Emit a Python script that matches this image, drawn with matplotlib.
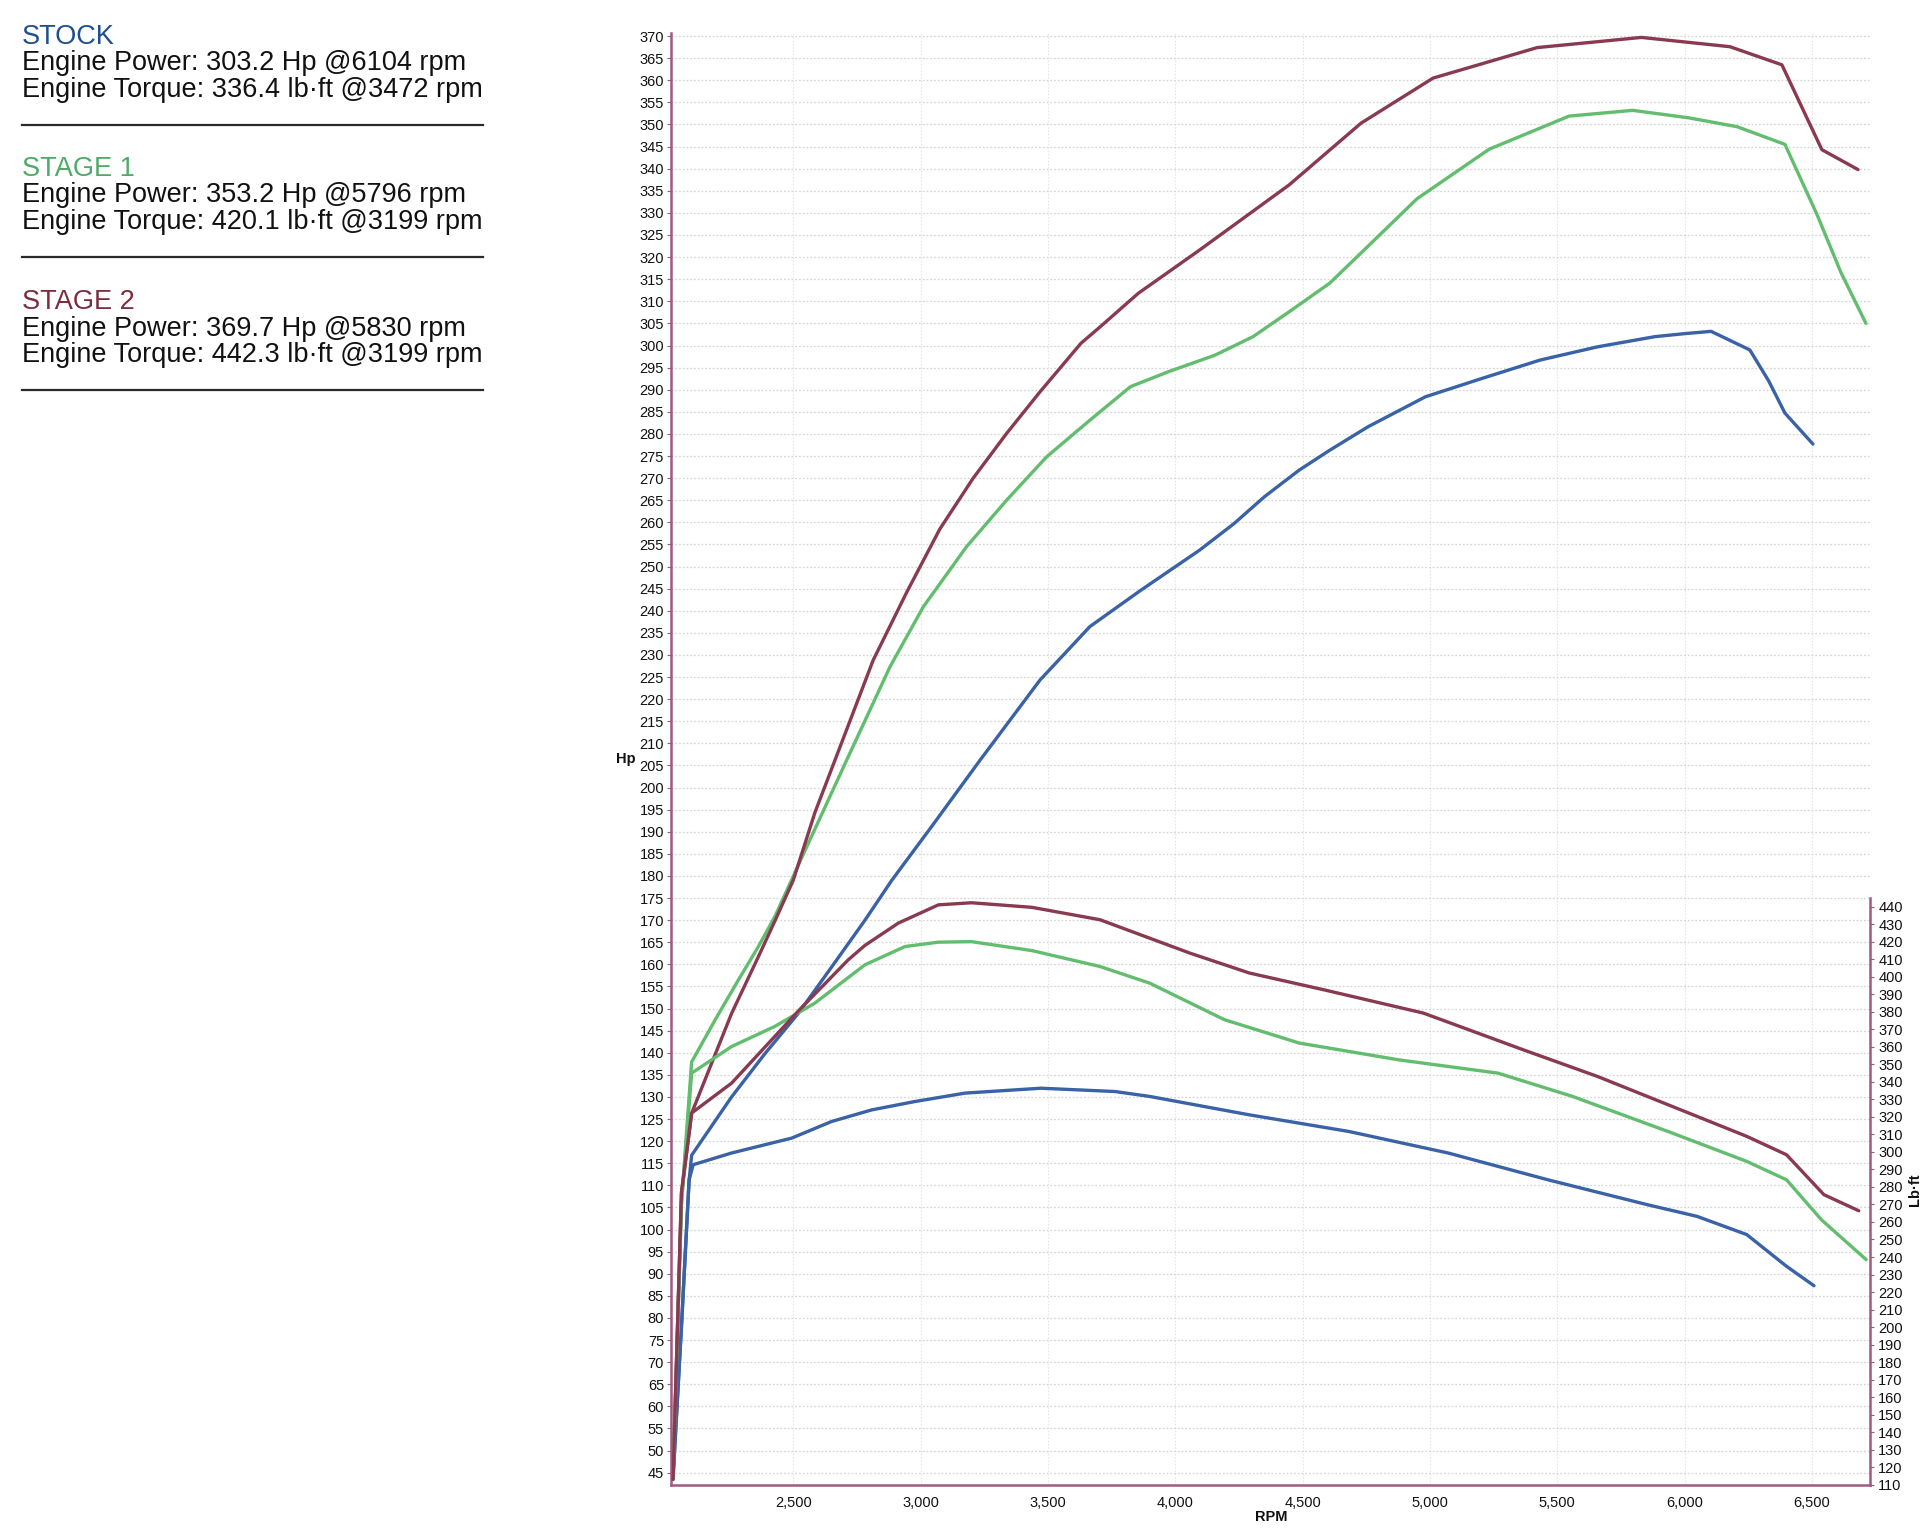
import matplotlib
matplotlib.use("Agg")
import matplotlib.pyplot as plt

plt.rcParams['font.family'] = ['Liberation Sans', 'DejaVu Sans']

# ---------------- data ----------------
stock_hp_rpm = [2027, 2060, 2090, 2100, 2257, 2388, 2519, 2650, 2781, 2886, 3043, 3233, 3468,
                3664, 3861, 4095, 4230, 4350, 4486, 4606, 4756, 4982, 5207, 5432, 5658, 5883,
                6003, 6104, 6256, 6330, 6394, 6504]
stock_hp = [44, 78, 111, 116.8, 130, 139.8, 148.9, 159.4, 170, 179, 191.2, 206.2, 224.3,
            236.4, 244.5, 253.7, 259.7, 265.8, 271.8, 276.3, 281.6, 288.4, 292.6, 296.7, 299.7, 302,
            302.7, 303.2, 299, 292, 284.7, 277.7]

stock_tq_rpm = [2027, 2060, 2090, 2106, 2257, 2493, 2650, 2807, 2977, 3174, 3472, 3763, 3899,
                4290, 4681, 5071, 5463, 5853, 6049, 6244, 6400, 6508]
stock_tq = [113, 200, 284, 292.7, 299.4, 307.9, 317.4, 324, 328.8, 333.6, 336.4, 334.5, 331.7,
            321.2, 311.7, 299.4, 284.1, 269.9, 263.2, 252.8, 234.7, 223.6]

stage1_hp_rpm = [2027, 2060, 2100, 2192, 2283, 2362, 2427, 2545, 2709, 2879, 3010, 3180, 3337,
                 3494, 3664, 3824, 3974, 4155, 4305, 4456, 4606, 4741, 4949, 5232, 5546, 5796,
                 6017, 6206, 6394, 6520, 6614, 6712]
stage1_hp = [44, 106, 137.9, 147.4, 156.4, 164, 170.8, 185.7, 206.2, 227.3, 240.9, 254.5, 265,
             274.8, 283.1, 290.7, 294.1, 297.8, 302, 308, 314.1, 321.6, 333.2, 344.4, 351.9, 353.2,
             351.5, 349.5, 345.5, 329.6, 316.5, 305]

stage1_tq_rpm = [2027, 2060, 2100, 2257, 2427, 2584, 2781, 2938, 3069, 3199, 3436, 3704, 3899,
                 4193, 4486, 4877, 5267, 5560, 5951, 6244, 6400, 6537, 6713]
stage1_tq = [113, 270, 345, 360.2, 371.7, 385, 406.9, 417.3, 419.8, 420.1, 415, 405.9, 396.4,
             375.5, 362.2, 352.6, 345, 331.7, 310.8, 294.6, 284.1, 261.3, 238.5]

stage2_hp_rpm = [2027, 2060, 2100, 2257, 2362, 2427, 2499, 2584, 2683, 2813, 2945, 3075, 3206,
                 3337, 3468, 3629, 3704, 3854, 4095, 4446, 4729, 5012, 5421, 5830, 6178, 6382,
                 6539, 6681]
stage2_hp = [44, 108, 126.3, 148.9, 161.7, 169.8, 179, 194.3, 209.2, 228.8, 244.2, 258.5, 270,
             280.1, 289.5, 300.5, 304.2, 311.8, 321.6, 336.3, 350.3, 360.5, 367.4, 369.7, 367.6, 363.5,
             344.3, 339.8]

stage2_tq_rpm = [2027, 2060, 2100, 2257, 2519, 2715, 2781, 2912, 3069, 3199, 3436, 3704, 4056,
                 4290, 4583, 4974, 5365, 5658, 6049, 6244, 6400, 6547, 6684]
stage2_tq = [113, 277, 322.2, 339.3, 380.5, 409.7, 418, 430.7, 441.1, 442.3, 439.7, 432.6, 413.6,
             402.2, 392.6, 379.3, 358.4, 343.1, 320.3, 308.9, 298.4, 275.6, 266.4]

x_ticks = [2500, 3000, 3500, 4000, 4500, 5000, 5500, 6000, 6500]
x_tick_labels = ["2,500", "3,000", "3,500", "4,000", "4,500", "5,000", "5,500", "6,000", "6,500"]
hp_ticks = list(range(45, 371, 5))
tq_ticks = list(range(110, 441, 10))

headers = ["STOCK", "STAGE 1", "STAGE 2"]
power_lines = ["Engine Power: 303.2 Hp @6104 rpm",
               "Engine Power: 353.2 Hp @5796 rpm",
               "Engine Power: 369.7 Hp @5830 rpm"]
torque_lines = ["Engine Torque: 336.4 lb\u00b7ft @3472 rpm",
                "Engine Torque: 420.1 lb\u00b7ft @3199 rpm",
                "Engine Torque: 442.3 lb\u00b7ft @3199 rpm"]

# ---------------- style ----------------
W, H = 1920, 1531
C_STOCK = "#3a62a6"
C_S1 = "#62bd6f"
C_S2 = "#8a3a50"
HEAD_COLORS = ["#1e4f8e", "#4eaa66", "#7c2c3e"]
SPINE = "#a05a7c"
GRID = "#d6d6d6"

fig = plt.figure(figsize=(W / 100, H / 100), dpi=100)
fig.patch.set_facecolor("white")


def fx(px):
    return px / W


def fy(py):
    return 1 - py / H


L, R, B, T = 671, 1870, 1485, 33
ax = fig.add_axes([fx(L), fy(B), (R - L) / W, (B - T) / H])
ax.set_xlim(2019, 6728)
ax.set_ylim(42.2, 370.7)

ax2 = ax.twinx()
ax2.set_ylim(109.8, 939)

# grid
ax.set_yticks(hp_ticks)
ax.set_xticks(x_ticks)
ax.set_xticklabels(x_tick_labels)
ax.grid(True, axis='y', color=GRID, linestyle=(0, (1.5, 1.5)), linewidth=0.9)
ax.grid(True, axis='x', color="#e6e6e6", linestyle=(0, (1.5, 1.5)), linewidth=0.8)
ax.set_axisbelow(True)

# spines
for s in ['top', 'right']:
    ax.spines[s].set_visible(False)
for s in ['left', 'bottom']:
    ax.spines[s].set_color(SPINE)
    ax.spines[s].set_linewidth(1.8)
for s in ['top', 'left', 'bottom']:
    ax2.spines[s].set_visible(False)
ax2.spines['right'].set_color(SPINE)
ax2.spines['right'].set_linewidth(1.8)
ax2.spines['right'].set_bounds(109.8, 445)

ax.tick_params(axis='y', length=3, width=0.8, color=SPINE, pad=2, labelsize=10.5, labelcolor="#111111")
ax.tick_params(axis='x', length=0, pad=8, labelsize=10.5, labelcolor="#111111")
ax2.set_yticks(tq_ticks)
ax2.tick_params(axis='y', length=3, width=0.8, color=SPINE, pad=3, labelsize=10.5, labelcolor="#111111")

# curves
lw = 2.4
kw = dict(lw=lw, solid_joinstyle='round', solid_capstyle='round')
ax.plot(stock_hp_rpm, stock_hp, color=C_STOCK, **kw)
ax.plot(stage1_hp_rpm, stage1_hp, color=C_S1, **kw)
ax.plot(stage2_hp_rpm, stage2_hp, color=C_S2, **kw)
ax2.plot(stock_tq_rpm, stock_tq, color=C_STOCK, **kw)
ax2.plot(stage1_tq_rpm, stage1_tq, color=C_S1, **kw)
ax2.plot(stage2_tq_rpm, stage2_tq, color=C_S2, **kw)

# axis labels
fig.text(fx(1271), fy(1517), "RPM", ha='center', va='center', fontsize=10.5, fontweight='bold', color="#111111")
fig.text(fx(626), fy(759), "Hp", ha='center', va='center', fontsize=10.5, fontweight='bold', color="#111111")
fig.text(fx(1908), fy(1190), "Lb\u00b7ft", ha='left', va='center', rotation=90,
         fontsize=10.5, fontweight='bold', color="#111111")

# header block
base = [44, 176, 309]
for i in range(3):
    b = base[i]
    fig.text(fx(22), fy(b), headers[i], ha='left', va='baseline', fontsize=19.5, color=HEAD_COLORS[i])
    fig.text(fx(22), fy(b + 26.5), power_lines[i], ha='left', va='baseline', fontsize=19.5, color="#111111")
    fig.text(fx(22), fy(b + 53), torque_lines[i], ha='left', va='baseline', fontsize=19.5, color="#111111")
    ly = b + 81
    fig.add_artist(plt.Line2D([fx(22), fx(483)], [fy(ly), fy(ly)], color="#2a2a2a", lw=1.6,
                              transform=fig.transFigure))

fig.savefig("out.png", dpi=100, facecolor="white")
